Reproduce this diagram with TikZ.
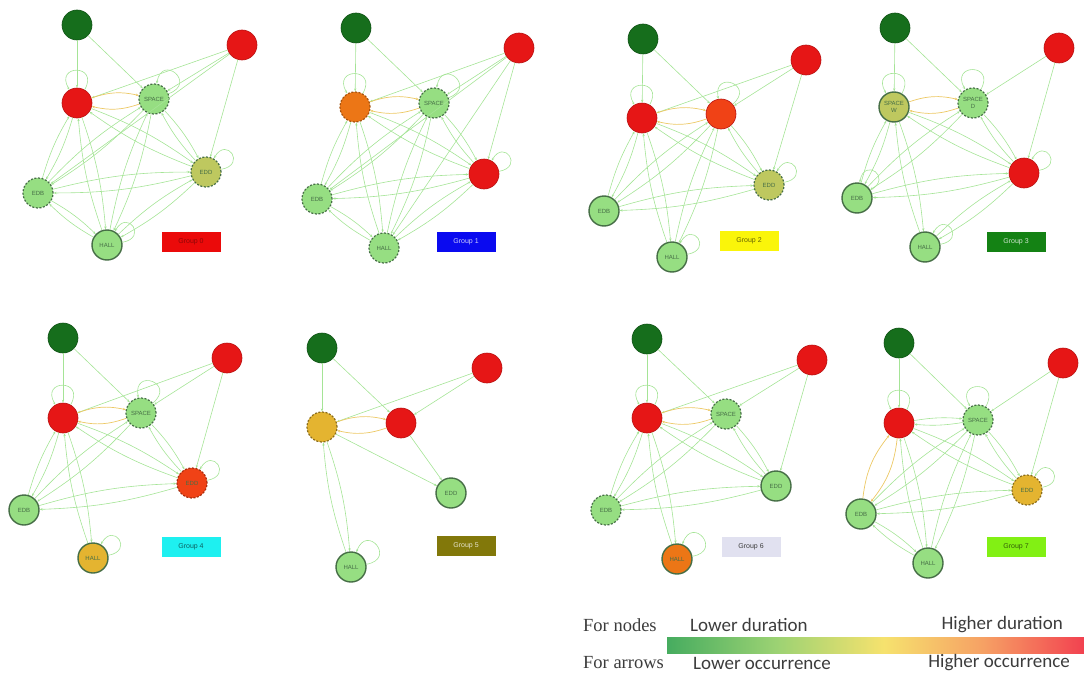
\documentclass[tikz,border=0pt]{standalone}
\usepackage{fontspec}
\setmainfont{Liberation Serif}
\newfontfamily\calfont{Carlito}
\newfontfamily\lblfont{Liberation Sans}
\usetikzlibrary{arrows.meta}
\definecolor{dgc}{RGB}{22,110,28}
\definecolor{rdc}{RGB}{230,22,22}
\definecolor{lgc}{RGB}{150,222,130}
\definecolor{olc}{RGB}{190,200,95}
\definecolor{orc}{RGB}{236,118,22}
\definecolor{orr}{RGB}{240,66,22}
\definecolor{gdc}{RGB}{228,180,48}
\definecolor{bdc}{RGB}{70,110,70}
\definecolor{edc}{RGB}{165,228,150}
\definecolor{hic}{RGB}{236,200,100}
\definecolor{txc}{RGB}{60,60,60}
\definecolor{b0}{RGB}{235,10,10}
\definecolor{b1}{RGB}{10,10,240}
\definecolor{b2}{RGB}{250,245,10}
\definecolor{b3}{RGB}{20,130,20}
\definecolor{b4}{RGB}{30,240,240}
\definecolor{b5}{RGB}{130,120,10}
\definecolor{b6}{RGB}{225,225,240}
\definecolor{b7}{RGB}{130,240,20}
\definecolor{s0}{RGB}{70,172,95}
\definecolor{s1}{RGB}{155,210,115}
\definecolor{s2}{RGB}{246,226,110}
\definecolor{s3}{RGB}{246,160,100}
\definecolor{s4}{RGB}{242,65,80}
\pgfdeclarehorizontalshading{durbar}{100bp}{color(0bp)=(s0); color(25bp)=(s0); color(38bp)=(s1); color(51bp)=(s2); color(63bp)=(s3); color(75bp)=(s4); color(100bp)=(s4)}
\tikzset{
  nd/.style={circle,minimum size=30pt,inner sep=0pt,font=\lblfont\fontsize{6}{6.5}\selectfont,text=bdc},
  dgn/.style={nd,fill=dgc,draw=dgc!75!black,line width=0.6pt},
  rdn/.style={nd,fill=rdc,draw=rdc!80!black,line width=0.6pt},
  sol/.style={nd,draw=bdc,line width=1.4pt},
  dsh/.style={nd,draw=bdc,line width=1.2pt,dash pattern=on 2pt off 1.6pt},
  edge/.style={draw=edc,line width=0.6pt,-{Stealth[length=3pt,width=2.4pt]}},
  hedge/.style={draw=hic,line width=0.7pt,-{Stealth[length=3pt,width=2.4pt]}},
  gbox/.style={minimum width=59pt,minimum height=20pt,inner sep=0pt,font=\lblfont\fontsize{7}{8}\selectfont},
  legtxt/.style={font=\calfont\fontsize{19}{21}\selectfont,text=txc,inner sep=0pt},
  legser/.style={font=\fontsize{18.5}{21}\selectfont,text=txc,inner sep=0pt}
}
\newcommand\gedges[2]{\foreach \u/\v in {#2}{\draw[edge] (#1\u) to[bend left=7] (#1\v); \draw[edge] (#1\v) to[bend left=7] (#1\u);}}
\newcommand\hedges[2]{\foreach \u/\v in {#2}{\draw[hedge] (#1\u) to[bend left=16] (#1\v); \draw[hedge] (#1\v) to[bend left=16] (#1\u);}}
\newcommand\sedges[2]{\foreach \u/\v in {#2}{\draw[edge] (#1\u) -- (#1\v);}}
\newcommand\gloops[2]{\foreach \n/\o/\i in {#2}{\draw[edge] (#1\n) to[out=\o,in=\i,looseness=5] (#1\n);}}
\begin{document}
\begin{tikzpicture}[x=1pt,y=-1pt]
\useasboundingbox (0,0) rectangle (1084,677);
% ---------- Panel 0
\node[dgn] (p0g) at (77,25) {};
\node[rdn] (p0r) at (242,45) {};
\node[rdn] (p0a) at (77,103) {};
\node[dsh,fill=lgc] (p0b) at (154,99) {SPACE};
\node[dsh,fill=olc] (p0e) at (206,172) {EDD};
\node[dsh,fill=lgc] (p0d) at (38,193) {EDB};
\node[sol,fill=lgc] (p0h) at (107,245) {HALL};
\node[gbox,fill=b0,text=b0!60!black] (p0x) at (191,242) {Group 0};
\sedges{p0}{g/a,g/b,r/a,r/b,r/e,r/d}
\hedges{p0}{a/b}
\gedges{p0}{a/d,a/h,a/e,b/d,b/h,b/e,e/d,e/h,d/h}
\gloops{p0}{a/60/120,b/20/80,e/10/60,h/10/60}
% ---------- Panel 1
\node[dgn] (p1g) at (356,28) {};
\node[rdn] (p1r) at (519,48) {};
\node[dsh,fill=orc,draw=orc!70!black] (p1a) at (355,107) {};
\node[dsh,fill=lgc] (p1b) at (434,103) {SPACE};
\node[rdn] (p1e) at (484,174) {};
\node[dsh,fill=lgc] (p1d) at (317,199) {EDB};
\node[dsh,fill=lgc] (p1h) at (384,248) {HALL};
\node[gbox,fill=b1,text=white!80!b1] (p1x) at (466,242) {Group 1};
\sedges{p1}{g/a,g/b,r/a,r/b,r/e,r/d,r/h}
\hedges{p1}{a/b}
\gedges{p1}{a/d,a/h,a/e,b/d,b/h,b/e,e/d,e/h,d/h}
\gloops{p1}{a/60/120,b/20/80,e/10/60}
% ---------- Panel 2
\node[dgn] (p2g) at (643,39) {};
\node[rdn] (p2r) at (806,60) {};
\node[rdn] (p2a) at (642,118) {};
\node[rdn,fill=orr] (p2b) at (721,114) {};
\node[dsh,fill=olc] (p2e) at (769,185) {EDD};
\node[sol,fill=lgc] (p2d) at (604,211) {EDB};
\node[sol,fill=lgc] (p2h) at (672,257) {HALL};
\node[gbox,fill=b2,text=b2!40!black] (p2x) at (749,241) {Group 2};
\sedges{p2}{g/a,g/b,r/a,r/b,r/e}
\hedges{p2}{a/b}
\gedges{p2}{a/d,a/h,a/e,b/d,b/h,b/e,e/d}
\gloops{p2}{a/60/120,b/40/100,e/10/60,h/10/60}
% ---------- Panel 3
\node[dgn] (p3g) at (895,28) {};
\node[rdn] (p3r) at (1059,48) {};
\node[sol,fill=olc] (p3a) at (894,107) {\shortstack{SPACE\\W}};
\node[dsh,fill=lgc] (p3b) at (973,103) {\shortstack{SPACE\\D}};
\node[rdn] (p3e) at (1024,173) {};
\node[sol,fill=lgc] (p3d) at (857,198) {EDB};
\node[sol,fill=lgc] (p3h) at (925,247) {HALL};
\node[gbox,fill=b3,text=white!80!b3] (p3x) at (1016,242) {Group 3};
\sedges{p3}{g/a,g/b,r/b,r/e}
\hedges{p3}{a/b}
\gedges{p3}{a/d,a/h,a/e,b/d,b/e,e/d,e/h}
\gloops{p3}{a/60/120,b/60/120,e/10/60,d/30/80,h/10/60}
% ---------- Panel 4
\node[dgn] (p4g) at (63,338) {};
\node[rdn] (p4r) at (227,358) {};
\node[rdn] (p4a) at (63,418) {};
\node[dsh,fill=lgc] (p4b) at (141,413) {SPACE};
\node[dsh,fill=orr,draw=orr!70!black] (p4e) at (192,483) {EDD};
\node[sol,fill=lgc] (p4d) at (24,510) {EDB};
\node[sol,fill=gdc] (p4h) at (93,558) {HALL};
\node[gbox,fill=b4,text=b4!40!black] (p4x) at (191,547) {Group 4};
\sedges{p4}{g/a,g/b,r/a,r/b,r/e}
\hedges{p4}{a/b}
\gedges{p4}{a/d,a/h,a/e,b/d,b/e,e/d}
\gloops{p4}{a/60/120,b/40/100,e/10/60,h/10/60}
% ---------- Panel 5
\node[dgn] (p5g) at (322,348) {};
\node[rdn] (p5r) at (487,368) {};
\node[dsh,fill=gdc,draw=gdc!60!black] (p5a) at (322,427) {};
\node[rdn] (p5b) at (401,423) {};
\node[sol,fill=lgc] (p5e) at (451,493) {EDD};
\node[sol,fill=lgc] (p5h) at (351,567) {HALL};
\node[gbox,fill=b5,text=white!80!b5] (p5x) at (466,546) {Group 5};
\sedges{p5}{g/a,g/b,r/a,r/b,a/e,b/e}
\hedges{p5}{a/b}
\gedges{p5}{a/h}
\gloops{p5}{h/10/70}
% ---------- Panel 6
\node[dgn] (p6g) at (647,339) {};
\node[rdn] (p6r) at (812,360) {};
\node[rdn] (p6a) at (647,418) {};
\node[dsh,fill=lgc] (p6b) at (726,414) {SPACE};
\node[sol,fill=lgc] (p6e) at (776,486) {EDD};
\node[dsh,fill=lgc] (p6d) at (606,510) {EDB};
\node[sol,fill=orc] (p6h) at (677,559) {HALL};
\node[gbox,fill=b6,text=txc] (p6x) at (751,547) {Group 6};
\sedges{p6}{g/a,g/b,r/a,r/b,r/e}
\hedges{p6}{a/b}
\gedges{p6}{a/d,a/h,a/e,b/d,b/e,e/d}
\gloops{p6}{a/60/120,h/10/70}
% ---------- Panel 7
\node[dgn] (p7g) at (899,343) {};
\node[rdn] (p7r) at (1063,363) {};
\node[rdn] (p7a) at (899,423) {};
\node[dsh,fill=lgc] (p7b) at (978,420) {SPACE};
\node[dsh,fill=gdc,draw=gdc!60!black] (p7e) at (1027,490) {EDD};
\node[sol,fill=lgc] (p7d) at (861,514) {EDB};
\node[sol,fill=lgc] (p7h) at (928,563) {HALL};
\node[gbox,fill=b7,text=b7!40!black] (p7x) at (1016,547) {Group 7};
\sedges{p7}{g/a,g/b,r/b,r/e}
\hedges{p7}{a/d}
\gedges{p7}{a/b,a/h,a/e,b/d,b/h,b/e,e/d,d/h}
\gloops{p7}{a/60/120,b/60/120,e/10/60}
% ---------- Legend
\shade[shading=durbar] (667,637) rectangle (1084,653);
\node[legser,anchor=west] (ln) at (583,625) {For nodes};
\node[legtxt,anchor=west] (lo) at (690,625) {Lower duration};
\node[legtxt,anchor=east] (hi) at (1063,625) {Higher duration};
\node[legser,anchor=west] (la) at (583,663) {For arrows};
\node[legtxt,anchor=west] (lo2) at (693,663) {Lower occurrence};
\node[legtxt,anchor=east] (hi2) at (1070,663) {Higher occurrence};
\end{tikzpicture}
\end{document}
